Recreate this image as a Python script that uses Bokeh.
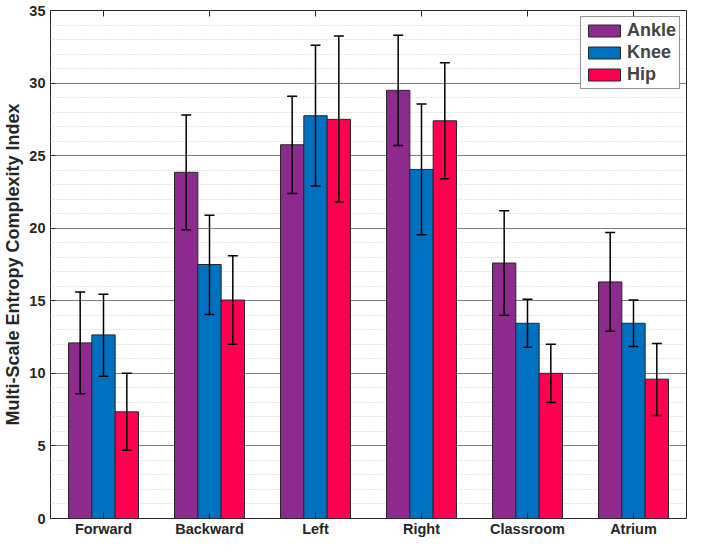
from bokeh.plotting import figure
from bokeh.models import (ColumnDataSource, FactorRange, Range1d, Whisker, TeeHead,
                          SingleIntervalTicker, CategoricalAxis, CustomJSTickFormatter,
                          Legend, LegendItem)
from bokeh.transform import dodge
from bokeh.embed import file_html
from bokeh.resources import INLINE

categories = ["Forward", "Backward", "Left", "Right", "Classroom", "Atrium"]
series = ["Ankle", "Knee", "Hip"]
colors = ["#8E2A8E", "#0070C0", "#FF0050"]

ankle = [12.1, 23.85, 25.75, 29.5, 17.6, 16.3]
ankle_lo = [8.6, 19.9, 22.4, 25.7, 14.0, 12.9]
ankle_hi = [15.6, 27.8, 29.1, 33.3, 21.2, 19.7]

knee = [12.65, 17.5, 27.75, 24.05, 13.45, 13.45]
knee_lo = [9.8, 14.05, 22.9, 19.55, 11.8, 11.85]
knee_hi = [15.45, 20.9, 32.6, 28.55, 15.1, 15.05]

hip = [7.35, 15.05, 27.5, 27.4, 10.0, 9.6]
hip_lo = [4.7, 12.0, 21.8, 23.4, 8.0, 7.1]
hip_hi = [10.0, 18.1, 33.25, 31.4, 12.0, 12.05]

values = [ankle, knee, hip]
lows = [ankle_lo, knee_lo, hip_lo]
highs = [ankle_hi, knee_hi, hip_hi]
offsets = [-0.22, 0.0, 0.22]
bar_w = 0.22

FONT = "Liberation Sans"

p = figure(width=690, height=539, x_range=FactorRange(*categories, range_padding=0),
           y_range=Range1d(0, 35), output_backend="svg", toolbar_location=None,
           min_border_left=2, min_border_right=4, min_border_top=10, min_border_bottom=0)

p.outline_line_color = "#262626"
p.outline_line_width = 1
p.background_fill_color = "white"

p.xgrid.grid_line_color = None
p.ygrid.grid_line_color = "#7f7f7f"
p.ygrid.grid_line_width = 1
p.ygrid.minor_grid_line_color = "#c8c8c8"
p.ygrid.minor_grid_line_dash = "1 2"
p.ygrid.minor_grid_line_width = 1

yt = SingleIntervalTicker(interval=5, num_minor_ticks=5)
p.yaxis.ticker = yt
p.ygrid.ticker = yt

for ax in p.yaxis:
    ax.axis_label = "Multi-Scale Entropy Complexity Index"
    ax.axis_label_text_font = FONT
    ax.axis_label_text_font_style = "bold"
    ax.axis_label_text_font_size = "18px"
    ax.axis_label_text_color = "#262626"
    ax.axis_label_standoff = 3
    ax.major_label_text_font = FONT
    ax.major_label_text_font_style = "bold"
    ax.major_label_text_font_size = "14.5px"
    ax.major_label_text_color = "#262626"
    ax.major_label_standoff = 5
    ax.major_tick_in = 5
    ax.major_tick_out = 0
    ax.minor_tick_in = 0
    ax.minor_tick_out = 0
    ax.axis_line_color = None
    ax.major_tick_line_color = "#262626"

for ax in p.xaxis:
    ax.major_label_text_font = FONT
    ax.major_label_text_font_style = "bold"
    ax.major_label_text_font_size = "14.5px"
    ax.major_label_text_color = "#262626"
    ax.major_label_standoff = 2
    ax.major_tick_in = 6
    ax.major_tick_out = 0
    ax.axis_line_color = None
    ax.major_tick_line_color = "#262626"

# frame ticks on the top side (no labels)
top_ax = CategoricalAxis(formatter=CustomJSTickFormatter(code="return ''"),
                         major_label_standoff=0, major_tick_in=6, major_tick_out=0,
                         axis_line_color=None, major_tick_line_color="#262626")
p.add_layout(top_ax, "above")

items = []
for name, col, vals, lo, hi, off in zip(series, colors, values, lows, highs, offsets):
    src = ColumnDataSource(dict(cat=categories, val=vals, lo=lo, hi=hi))
    r = p.vbar(x=dodge("cat", off, range=p.x_range), top="val", width=bar_w, source=src,
               fill_color=col, line_color="#262626", line_width=1)
    items.append(LegendItem(label=name, renderers=[r]))
    w = Whisker(base=dodge("cat", off, range=p.x_range), lower="lo", upper="hi", source=src,
                line_color="black", line_width=1.5, level="overlay",
                upper_head=TeeHead(size=10, line_color="black", line_width=1.5),
                lower_head=TeeHead(size=10, line_color="black", line_width=1.5))
    p.add_layout(w)

legend = Legend(items=items, location="top_right",
                label_text_font=FONT, label_text_font_style="bold", label_text_font_size="18px",
                label_standoff=3, glyph_width=40, glyph_height=15, spacing=1, padding=3,
                margin=6, label_height=15,
                border_line_color="#262626", border_line_width=1, background_fill_alpha=1)
p.add_layout(legend)

open("out.html", "w").write(file_html(p, INLINE))
